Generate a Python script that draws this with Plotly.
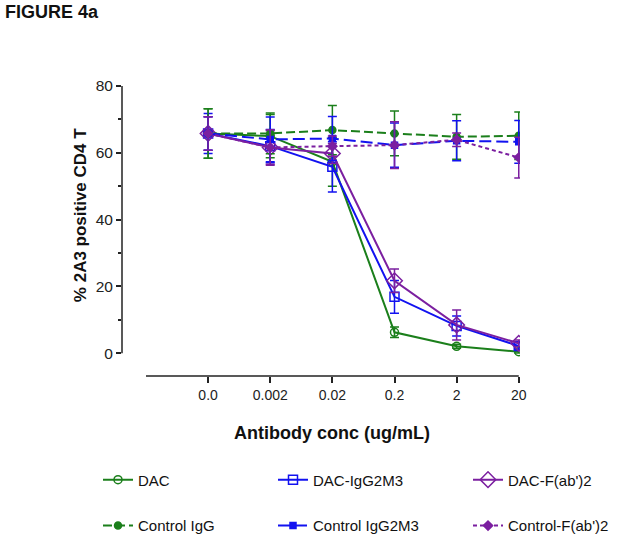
import plotly.graph_objects as go

conc_labels = ['0.0', '0.002', '0.02', '0.2', '2', '20']

dac = [65.8, 65.0, 57.3, 6.3, 2.1, 0.5]
dac_err = [7.4, 6.5, 7.3, 1.6, 0.6, 0.4]
dac_igg2m3 = [65.8, 62.0, 55.8, 16.9, 8.2, 2.2]
dac_igg2m3_err = [6.0, 5.0, 7.5, 4.9, 3.0, 1.0]
dac_fab2 = [65.8, 61.6, 59.8, 21.7, 8.5, 3.0]
dac_fab2_err = [5.0, 5.0, 3.0, 3.5, 4.5, 1.0]
ctrl_igg = [65.8, 65.8, 66.8, 65.8, 64.8, 65.1]
ctrl_igg_err = [7.4, 6.1, 7.4, 6.7, 6.7, 7.1]
ctrl_igg2m3 = [65.8, 64.0, 64.3, 62.3, 63.6, 63.3]
ctrl_igg2m3_err = [5.0, 6.7, 6.6, 6.6, 6.0, 6.4]
ctrl_fab2 = [65.8, 61.6, 62.0, 62.3, 63.9, 58.6]
ctrl_fab2_err = [5.0, 5.3, 3.0, 7.0, 2.0, 6.1]

GREEN = '#1b7f1b'
BLUE = '#1212f0'
PURPLE = '#7b1fa0'
FONT = 'Arial, Liberation Sans, sans-serif'

x = list(range(len(conc_labels)))

series = [
    ('DAC', dac, dac_err, GREEN, 'solid', 'circle-open', 8),
    ('DAC-IgG2M3', dac_igg2m3, dac_igg2m3_err, BLUE, 'solid', 'square-open', 9),
    ("DAC-F(ab')2", dac_fab2, dac_fab2_err, PURPLE, 'solid', 'diamond-open', 12),
    ('Control IgG', ctrl_igg, ctrl_igg_err, GREEN, '9px,4px', 'circle', 7),
    ('Control IgG2M3', ctrl_igg2m3, ctrl_igg2m3_err, BLUE, '12px,5px', 'square', 6),
    ("Control-F(ab')2", ctrl_fab2, ctrl_fab2_err, PURPLE, '4px,3px', 'diamond', 7),
]

# pixel geometry of the plot area (used to place things in paper coords)
L, R, T, B = 122, 520, 85.7, 376
W, H = R - L, B - T


def px(v):
    return (v - L) / W


def py(v):
    return (B - v) / H


fig = go.Figure()
legends = {}
leg_cols = [98, 273, 468]
leg_rows = [480, 526]
for i, (name, y, err, color, dash, symbol, size) in enumerate(series):
    key = 'legend' if i == 0 else 'legend%d' % (i + 1)
    legends[key] = dict(
        x=px(leg_cols[i % 3]), y=py(leg_rows[i // 3]), xanchor='left', yanchor='middle',
        orientation='h', itemwidth=30, bgcolor='rgba(0,0,0,0)',
        font=dict(family=FONT, size=15, color='#111'))
    fig.add_trace(go.Scatter(
        x=x, y=y, name=name, mode='lines+markers',
        line=dict(color=color, width=2, dash=dash),
        marker=dict(symbol=symbol, size=size, color=color,
                    line=dict(color=color, width=1.5)),
        error_y=dict(type='data', array=err, color=color, thickness=1.5, width=4.5),
        legend=key,
    ))

# Prism-style offset axes
fig.add_shape(type='line', xref='paper', yref='y', x0=0, x1=0, y0=0, y1=80,
              line=dict(color='#222', width=1.5))
fig.add_shape(type='line', xref='x', yref='paper', x0=-1, x1=5, y0=0, y1=0,
              line=dict(color='#222', width=1.5))

fig.update_layout(
    width=621, height=541,
    margin=dict(l=L, r=621 - R, t=T, b=541 - B, autoexpand=False),
    paper_bgcolor='white', plot_bgcolor='white',
    font=dict(family=FONT, color='#222'),
    showlegend=True,
    xaxis=dict(range=[-1 - 24 / 62.2, 5.02], tickmode='array', tickvals=x, ticktext=conc_labels,
               showline=False, showgrid=False, zeroline=False,
               ticks='outside', ticklen=6, tickwidth=1.5, tickcolor='#222',
               tickfont=dict(size=14, color='#222')),
    yaxis=dict(range=[-(B - 353.3) / 3.345, 80], tickmode='array', tickvals=[0, 20, 40, 60, 80],
               showline=False, showgrid=False, zeroline=False,
               ticks='outside', ticklen=5, tickwidth=1.5, tickcolor='#222',
               tickfont=dict(size=15.5, color='#222'),
               minor=dict(tickvals=[10, 30, 50, 70], ticks='outside', ticklen=3.5,
                          tickwidth=1.5, tickcolor='#222')),
    annotations=[
        dict(text='<b>FIGURE 4a</b>', xref='paper', yref='paper',
             x=px(3), y=py(11.5), xanchor='left', yanchor='middle', showarrow=False,
             font=dict(size=18, color='#111')),
        dict(text='<b>Antibody conc (ug/mL)</b>', xref='paper', yref='paper',
             x=px(331.5), y=py(433), xanchor='center', yanchor='middle',
             showarrow=False, font=dict(size=18, color='#111')),
        dict(text='<b>% 2A3 positive CD4 T</b>', xref='paper', yref='paper',
             x=px(80), y=py(215), xanchor='center', yanchor='middle',
             textangle=-90, showarrow=False, font=dict(size=17, color='#111')),
    ],
    **legends,
)

# drop the default 8px page margin so the figure fills the window exactly
fig.write_html('out.html', config={'displayModeBar': False},
               post_script="document.body.style.margin = '0';")
